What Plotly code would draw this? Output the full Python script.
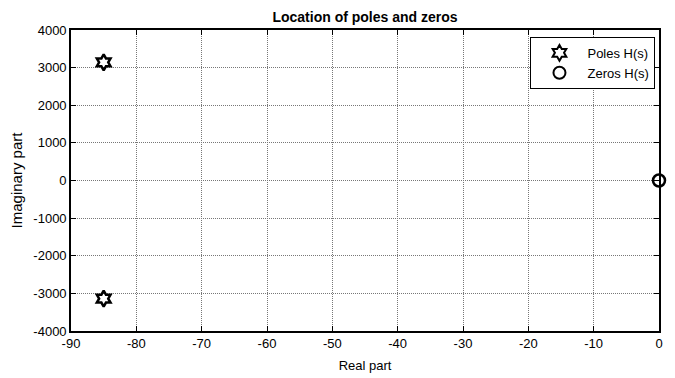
import plotly.graph_objects as go

pole_re = [-85, -85]
pole_im = [3140, -3140]
zero_re = [0]
zero_im = [0]
x_ticks = [-90, -80, -70, -60, -50, -40, -30, -20, -10, 0]
y_ticks = [-4000, -3000, -2000, -1000, 0, 1000, 2000, 3000, 4000]

FONT = "Liberation Sans, Arial"

fig = go.Figure()
fig.add_trace(go.Scatter(x=pole_re, y=pole_im, mode="markers", name="Poles H(s)",
                         marker=dict(symbol="hexagram-open", size=12, color="black",
                                     line=dict(width=2.5, color="black")),
                         cliponaxis=False))
fig.add_trace(go.Scatter(x=zero_re, y=zero_im, mode="markers", name="Zeros H(s)",
                         marker=dict(symbol="circle-open", size=12, color="black",
                                     line=dict(width=2.5, color="black")),
                         cliponaxis=False))

axis_common = dict(showline=True, linecolor="black", linewidth=1.6, mirror="ticks",
                   ticks="inside", ticklen=5, tickcolor="black", tickwidth=1,
                   showgrid=True, gridcolor="#777", griddash="1px,1px", gridwidth=1,
                   zeroline=False, automargin=False,
                   tickfont=dict(family=FONT, size=13, color="black"))

fig.update_xaxes(range=[-90, 0], tickvals=x_ticks, ticktext=[str(v) for v in x_ticks],
                 title=dict(text="Real part", font=dict(family=FONT, size=13, color="black"), standoff=10),
                 **axis_common)
fig.update_yaxes(range=[-4000, 4000], tickvals=y_ticks, ticktext=[str(v) for v in y_ticks],
                 title=dict(text="Imaginary part", font=dict(family=FONT, size=15, color="black"), standoff=8),
                 **axis_common)

fig.update_layout(
    width=667, height=370,
    margin=dict(l=63, r=16, t=22, b=47),
    paper_bgcolor="white", plot_bgcolor="white",
    title=dict(text="<b>Location of poles and zeros</b>", xref="paper", x=0.5, xanchor="center",
               yref="container", y=0.976, yanchor="middle",
               font=dict(family=FONT, size=14, color="black")),
    legend=dict(x=0.994, y=0.977, xanchor="right", yanchor="top", bgcolor="white",
                bordercolor="black", borderwidth=1,
                font=dict(family=FONT, size=13, color="black"),
                tracegroupgap=0, itemsizing="constant", itemwidth=46),
    showlegend=True,
)

fig.write_html("out.html")
